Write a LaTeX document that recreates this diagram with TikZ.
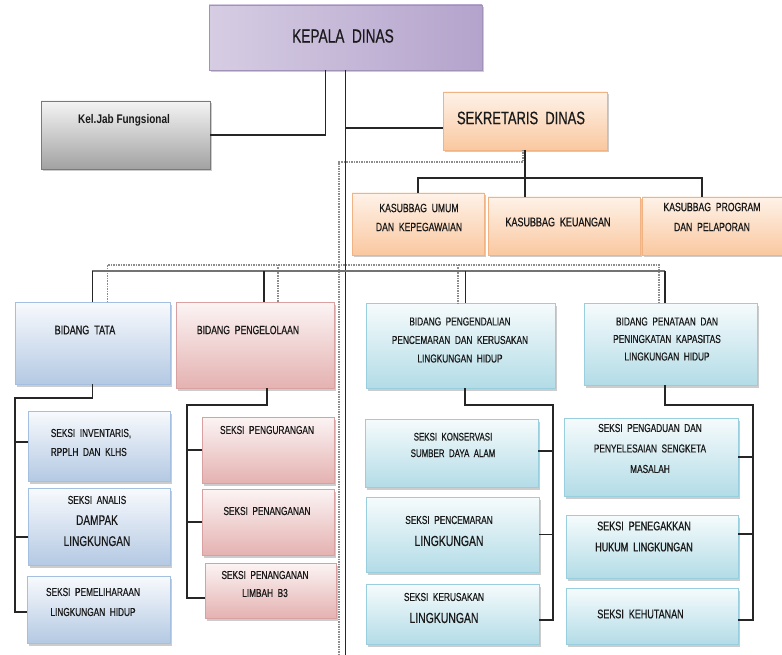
\documentclass[tikz,border=0pt]{standalone}
\usepackage{fontspec}
\setmainfont{Liberation Sans}
\newfontfamily\cnd[FakeStretch=0.72,FakeBold=0.5]{Liberation Sans}
\newfontfamily\cndb[FakeStretch=0.8]{Liberation Sans}
\usetikzlibrary{shadows}
\definecolor{lavA}{HTML}{D6CDE3}
\definecolor{lavB}{HTML}{EEEAF3}
\definecolor{lavC}{HTML}{B4A3CC}
\definecolor{lavD}{HTML}{A193B8}
\definecolor{grA}{HTML}{F4F4F4}
\definecolor{grB}{HTML}{A2A2A2}
\definecolor{grD}{HTML}{7A7A7A}
\definecolor{peA}{HTML}{FEF2E8}
\definecolor{peB}{HTML}{FAC8A0}
\definecolor{peD}{HTML}{F2B384}
\definecolor{blA}{HTML}{F8FAFD}
\definecolor{blB}{HTML}{B4C9E3}
\definecolor{blD}{HTML}{A5BFE0}
\definecolor{rdA}{HTML}{FCF4F4}
\definecolor{rdB}{HTML}{E4B2B1}
\definecolor{rdD}{HTML}{D8A0A0}
\definecolor{cyA}{HTML}{F6FBFC}
\definecolor{cyB}{HTML}{B3DCE7}
\definecolor{cyD}{HTML}{98CEDD}
\tikzset{
  box/.style={draw, line width=0.8pt, inner sep=0pt, outer sep=0pt, anchor=north west,
    drop shadow={shadow xshift=1.5pt, shadow yshift=-2.5pt, opacity=0.4}},
  kepalabox/.style={box, draw=lavD, left color=lavA, middle color=lavB, right color=lavC},
  graybox/.style={box, draw=grD, top color=grA, bottom color=grB},
  peachbox/.style={box, draw=peD, top color=peA, bottom color=peB},
  bluebox/.style={box, draw=blD, top color=blA, bottom color=blB},
  redbox/.style={box, draw=rdD, top color=rdA, bottom color=rdB},
  cyanbox/.style={box, draw=cyD, top color=cyA, bottom color=cyB},
  conn/.style={line width=1.8pt, draw=black!85},
  bus/.style={line width=1.1pt, draw=black!55},
  dsh/.style={line width=1.3pt, draw=gray!90, dash pattern=on 1.5pt off 1pt},
  txt/.style={text=black!90, align=center, inner sep=0pt},
}
\newcommand\mybox[6]{\node[#6, minimum width={(#4-#2)*1pt}, minimum height={(#5-#3)*1pt}] (#1) at (#2,#3) {};}
\begin{document}
\begin{tikzpicture}[x=1pt,y=-1pt]
\useasboundingbox (0,0) rectangle (782,655);
\fill[white] (0,0) rectangle (782,655);

% boxes
\mybox{kepala}{209}{5}{482}{70}{kepalabox}
\mybox{keljab}{41}{101}{210}{169}{graybox}
\mybox{sek}{443}{92}{607}{150}{peachbox}
\mybox{kb1}{352}{193}{484}{255}{peachbox}
\mybox{kb2}{488}{197}{640}{255}{peachbox}
\mybox{kb3}{642}{197}{790}{255}{peachbox}
\mybox{bt}{15}{302}{170}{384}{bluebox}
\mybox{bp}{176}{302}{334}{388}{redbox}
\mybox{bk}{366}{303}{555}{388}{cyanbox}
\mybox{bq}{584}{303}{757}{385}{cyanbox}
\mybox{s1}{28}{411}{170}{481}{bluebox}
\mybox{s2}{28}{488}{170}{565}{bluebox}
\mybox{s3}{27}{576}{170}{643}{bluebox}
\mybox{p1}{202}{417}{334}{483}{redbox}
\mybox{p2}{202}{489}{334}{555}{redbox}
\mybox{p3}{205}{563}{336}{618}{redbox}
\mybox{k1}{365}{419}{538}{487}{cyanbox}
\mybox{k2}{366}{497}{539}{572}{cyanbox}
\mybox{k3}{366}{584}{539}{644}{cyanbox}
\mybox{t1}{564}{418}{738}{496}{cyanbox}
\mybox{t2}{566}{515}{738}{578}{cyanbox}
\mybox{t3}{566}{588}{738}{644}{cyanbox}

% helper coordinates
\coordinate (bot) at (0,655);
\coordinate (kbbus) at (0,178);
\coordinate (sbus) at (0,271);
\coordinate (dbus) at (0,265);
\coordinate (dleft) at (339,162);
\coordinate (c1) at (15,398);
\coordinate (c2) at (187,405);
\coordinate (c3) at (553,405);
\coordinate (c4) at (753,405);

% dashed lines
\draw[dsh] ([xshift=-2pt]sek.south) |- (dleft) -- (dleft |- bot);
\draw[dsh] ([xshift=15pt]bt.north) |- ([xshift=-11.5pt]bq.north |- dbus) -- ([xshift=-11.5pt]bq.north);
\draw[dsh] ([xshift=23pt]bp.north |- dbus) -- ([xshift=23pt]bp.north);
\draw[dsh] ([xshift=-2.5pt]bk.north |- dbus) -- ([xshift=-2.5pt]bk.north);

% solid connectors
\draw[conn] (kepala.south) -- (kepala.south |- bot);
\draw[conn] ([xshift=-20pt]kepala.south) |- (keljab.east);
\draw[conn] (kepala.south |- 0,128) -- ([yshift=-7pt]sek.west);
\draw[conn, line width=1.5pt] (sek.south) -- (sek.south |- kb2.north);
\draw[conn, line width=1.5pt] (kb1.north) |- (kbbus -| sek.south) -| ([xshift=-14pt]kb3.north);
\draw[bus] (bt.north) |- ([xshift=-5.5pt]bq.north |- sbus);
\draw[conn] (bt.north |- sbus) -- (bt.north);
\draw[conn] ([xshift=9pt]bp.north |- sbus) -- ([xshift=9pt]bp.north);
\draw[conn] ([xshift=5pt]bk.north |- sbus) -- ([xshift=5pt]bk.north);
\draw[conn] ([xshift=-5.5pt]bq.north |- sbus) -- ([xshift=-5.5pt]bq.north);

% seksi connectors
\draw[conn] (bt.south) |- (c1) |- ([yshift=-2.5pt]s3.west);
\draw[conn] (c1 |- s1.west) ++(0,-4) -- ([yshift=4pt]s1.west);
\draw[conn] (c1 |- s2.west) ++(0,10.5) -- ([yshift=-10.5pt]s2.west);
\draw[conn] ([xshift=12pt]bp.south) |- (c2) |- ([yshift=-7.5pt]p3.west);
\draw[conn] (c2 |- p1.west) -- (p1.west);
\draw[conn] (c2 |- p2.west) -- (p2.west);
\draw[conn] ([xshift=4.5pt]bk.south) |- (c3) |- ([yshift=-6pt]k3.east);
\draw[conn] (c3 |- k1.east) ++(0,-2) -- ([yshift=2pt]k1.east);
\draw[conn] (c3 |- k2.east) -- (k2.east);
\draw[conn] ([xshift=-5.5pt]bq.south) |- (c4) |- ([yshift=-4pt]t3.east);
\draw[conn] (c4 |- t1.east) -- (t1.east);
\draw[conn] (c4 |- t2.east) ++(0,-12.5) -- ([yshift=12.5pt]t2.east);

% texts
\node[txt, font=\cnd\fontsize{19}{22}\selectfont] (tkepala) at (343,36) {KEPALA~~DINAS};
\node[txt, font=\cndb\bfseries\fontsize{12.5}{14}\selectfont] (tkeljab) at (124,120) {Kel.Jab Fungsional};
\node[txt, font=\cnd\fontsize{18}{21}\selectfont] (tsek) at (521,118) {SEKRETARIS~~DINAS};
\node[txt, font=\cnd\fontsize{12}{19}\selectfont] (tkb1) at (419,217.5) {KASUBBAG~~UMUM\\DAN~~KEPEGAWAIAN};
\node[txt, font=\cnd\fontsize{12.5}{19}\selectfont] (tkb2) at (558,222) {KASUBBAG~~KEUANGAN};
\node[txt, font=\cnd\fontsize{12}{20}\selectfont] (tkb3) at (712,217) {KASUBBAG~~PROGRAM\\DAN~~PELAPORAN};
\node[txt, font=\cnd\fontsize{12.5}{15}\selectfont] (tbt) at (85,330) {BIDANG~~TATA};
\node[txt, font=\cnd\fontsize{12}{15}\selectfont] (tbp) at (248,330) {BIDANG~~PENGELOLAAN};
\node[txt, font=\cnd\fontsize{11.5}{18.5}\selectfont] (tbk) at (460,340) {BIDANG~~PENGENDALIAN\\PENCEMARAN~~DAN~~KERUSAKAN\\LINGKUNGAN~~HIDUP};
\node[txt, font=\cnd\fontsize{11.5}{17.5}\selectfont] (tbq) at (667,339) {BIDANG~~PENATAAN~~DAN\\PENINGKATAN~~KAPASITAS\\LINGKUNGAN~~HIDUP};
\node[txt, align=left, font=\cnd\fontsize{11.5}{19}\selectfont] (ts1) at (91,442.5) {SEKSI~~INVENTARIS,\\RPPLH~~DAN~~KLHS};
\node[txt, font=\cnd\fontsize{11.5}{21}\selectfont] (ts2) at (97,521) {SEKSI~~ANALIS\\{\fontsize{14}{21}\selectfont DAMPAK}\\{\fontsize{14}{21}\selectfont LINGKUNGAN}};
\node[txt, font=\cnd\fontsize{11.5}{20}\selectfont] (ts3) at (93,602) {SEKSI~~PEMELIHARAAN\\LINGKUNGAN~~HIDUP};
\node[txt, font=\cnd\fontsize{11.5}{14}\selectfont] (tp1) at (267,430) {SEKSI~~PENGURANGAN};
\node[txt, font=\cnd\fontsize{11.5}{14}\selectfont] (tp2) at (267,511) {SEKSI~~PENANGANAN};
\node[txt, font=\cnd\fontsize{11.5}{18}\selectfont] (tp3) at (265,584) {SEKSI~~PENANGANAN\\LIMBAH~~B3};
\node[txt, font=\cnd\fontsize{11}{16.5}\selectfont] (tk1) at (453,445) {SEKSI~~KONSERVASI\\SUMBER~~DAYA~~ALAM};
\node[txt, font=\cnd\fontsize{11.5}{22}\selectfont] (tk2) at (449,531) {SEKSI~~PENCEMARAN\\{\fontsize{14.5}{22}\selectfont LINGKUNGAN}};
\node[txt, font=\cnd\fontsize{11.5}{22}\selectfont] (tk3) at (444,608) {SEKSI~~KERUSAKAN\\{\fontsize{14.5}{22}\selectfont LINGKUNGAN}};
\node[txt, font=\cnd\fontsize{11.5}{20.5}\selectfont] (tt1) at (650,448.5) {SEKSI~~PENGADUAN~~DAN\\PENYELESAIAN~~SENGKETA\\MASALAH};
\node[txt, font=\cnd\fontsize{12.5}{21}\selectfont] (tt2) at (644,536.5) {SEKSI~~PENEGAKKAN\\HUKUM~~LINGKUNGAN};
\node[txt, font=\cnd\fontsize{12.5}{15}\selectfont] (tt3) at (640.5,614) {SEKSI~~KEHUTANAN};
\end{tikzpicture}
\end{document}
